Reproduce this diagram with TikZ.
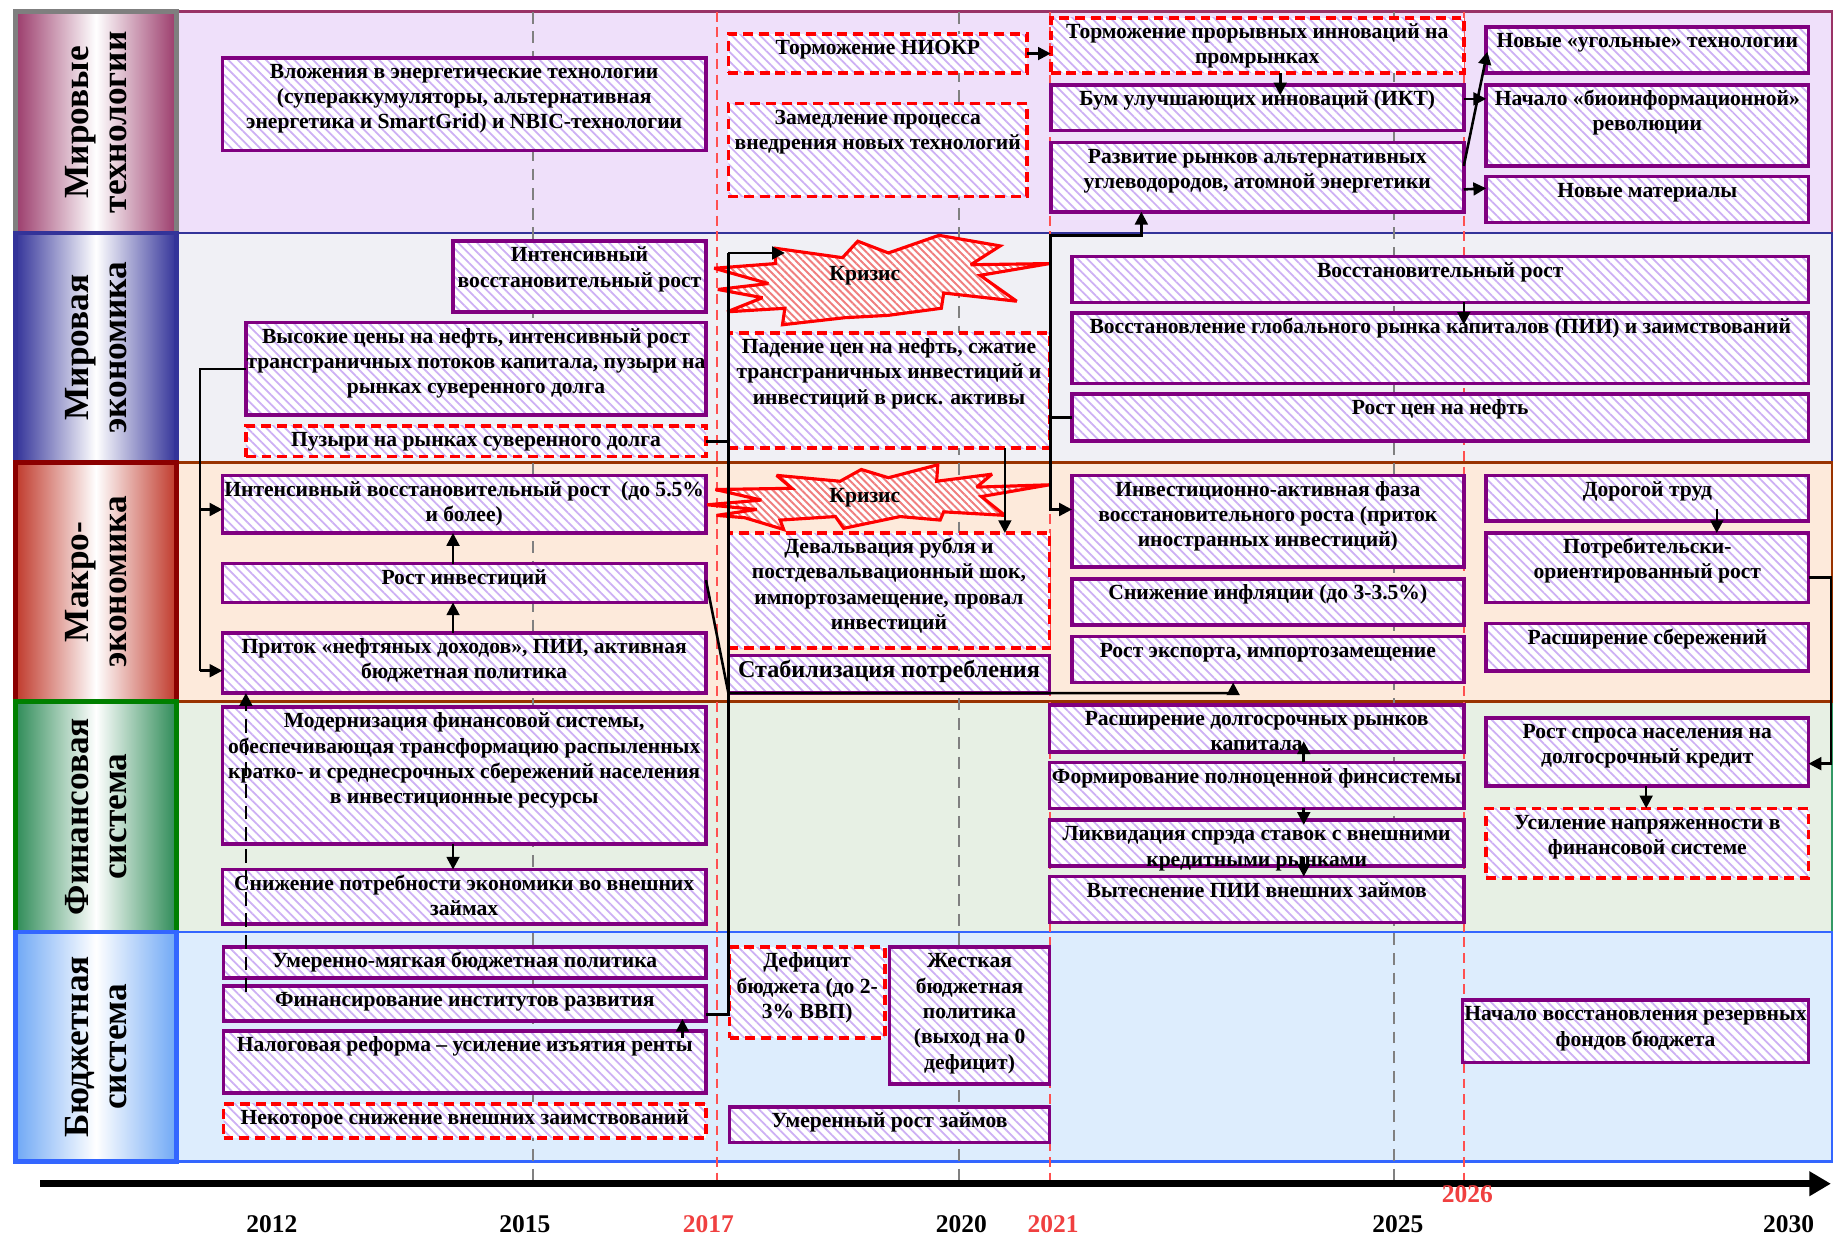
\documentclass[tikz,border=0pt]{standalone}
\usepackage{fontspec}
\setmainfont{Liberation Serif}
\usetikzlibrary{patterns.meta,arrows.meta,calc}
\definecolor{bpurple}{HTML}{800080}
\definecolor{hatchP}{HTML}{CDB0F4}
\definecolor{hatchR}{HTML}{F07E7E}
\definecolor{rowA}{HTML}{EFE0FA}
\definecolor{rowB}{HTML}{F0F0F5}
\definecolor{rowC}{HTML}{FDEADB}
\definecolor{rowD}{HTML}{E7F0E4}
\definecolor{rowE}{HTML}{DDEDFD}
\definecolor{rowAb}{HTML}{993366}
\definecolor{rowBb}{HTML}{333399}
\definecolor{rowCb}{HTML}{993300}
\definecolor{rowDb}{HTML}{339966}
\definecolor{rowEb}{HTML}{3366FF}
\definecolor{labA}{HTML}{9B3B6B}
\definecolor{labB}{HTML}{333399}
\definecolor{labC}{HTML}{C0392B}
\definecolor{labD}{HTML}{2E8B57}
\definecolor{labE}{HTML}{6FA8F5}
\definecolor{labAb}{HTML}{7F7F7F}
\definecolor{labCb}{HTML}{8B0000}
\definecolor{labDb}{HTML}{008000}
\definecolor{vredc}{HTML}{FF5050}
\definecolor{yred}{HTML}{F04040}
\newcommand{\bxfont}{\fontsize{11}{12.9}\selectfont\bfseries}
\newcommand{\bxpad}{1.5pt}
\newcommand{\bx}[7][pbox]{%
  \pgfmathsetmacro\bxw{(#5-#3)*0.6}%
  \pgfmathsetmacro\bxh{(#6-#4)*0.6}%
  \node[#1, anchor=north west, minimum width=\bxw pt, minimum height=\bxh pt] (#2) at (#3,#4)
   {\parbox[c][\bxh pt][t]{\bxw pt}{\centering\vspace*{\bxpad}\makebox[0pt]{\begin{tabular}[t]{@{}c@{}}#7\end{tabular}}\par}};}
\begin{document}
\begin{tikzpicture}[x=0.6pt,y=-0.6pt,
  pbox/.style={draw=bpurple, line width=1.9pt, preaction={fill=white},
    pattern={Lines[angle=-45,distance=3.4pt,line width=0.9pt]}, pattern color=hatchP,
    inner sep=0pt, outer sep=0pt, font=\bxfont},
  rbox/.style={pbox, draw=red, dash pattern=on 5pt off 3pt},
  arr/.style={line width=1.3pt, -{Triangle[length=6.5pt,width=6.5pt]}},
  conn/.style={line width=1.3pt},
  vgray/.style={draw=gray, line width=1.1pt, dash pattern=on 6pt off 4pt},
  vred/.style={draw=vredc, line width=1pt, dash pattern=on 5pt off 3pt},
  starsty/.style={draw=red, line width=1.6pt, line join=miter, miter limit=3,
    preaction={fill=white}, pattern={Lines[angle=-45,distance=2.6pt,line width=1pt]}, pattern color=hatchR},
  labtxt/.style={rotate=90, align=center, font=\fontsize{18}{19.5}\selectfont\bfseries},
  yr/.style={font=\fontsize{13}{15}\selectfont\bfseries},
  yrr/.style={yr, text=yred}]
\useasboundingbox (0,0) rectangle (1568,1059);
\fill[white] (0,0) rectangle (1568,1059);
% rows
\path[fill=rowA, draw=rowAb, line width=1.4pt] (150,10) rectangle (1557,198);
\path[fill=rowB, draw=rowBb, line width=1.4pt] (150,198) rectangle (1557,393);
\path[fill=rowD, draw=rowDb, line width=1.4pt] (150,596) rectangle (1557,792);
\path[fill=rowC, draw=rowCb, line width=1.4pt] (150,393) rectangle (1557,596);
\path[fill=rowE, draw=rowEb, line width=1.4pt] (150,792) rectangle (1557,987);
% labels
\path[draw=labAb, line width=2.4pt, left color=labA, right color=labA, middle color=white] (13,10) rectangle (150,198);
\path[draw=labB, line width=2.4pt, left color=labB, right color=labB, middle color=white] (13,198) rectangle (150,393);
\path[draw=labCb, line width=2.4pt, left color=labC, right color=labC, middle color=white] (13,393) rectangle (150,596);
\path[draw=labDb, line width=2.4pt, left color=labD, right color=labD, middle color=white] (13,596) rectangle (150,792);
\path[draw=rowEb, line width=2.4pt, left color=labE, right color=labE, middle color=white] (13,792) rectangle (150,987);
\node[labtxt] (L1) at (81.5,104) {Мировые\\технологии};
\node[labtxt] (L2) at (81.5,295.5) {Мировая\\экономика};
\node[labtxt] (L3) at (81.5,494.5) {Макро-\\экономика};
\node[labtxt] (L4) at (81.5,694) {Финансовая\\система};
\node[labtxt] (L5) at (81.5,889.5) {Бюджетная\\система};
% vertical year lines
\draw[vgray] (453,10) -- (453,1006);
\draw[vred] (609,10) -- (609,1006);
\draw[vgray] (815,10) -- (815,1006);
\draw[vred] (892,10) -- (892,1006);
\draw[vgray] (1185,10) -- (1185,1006);
\draw[vred] (1244,10) -- (1244,1006);
% junction coordinates
\coordinate (v1) at (619,215);
\coordinate (v2) at (619,862);
\coordinate (v3) at (619,375);
\coordinate (v4) at (619,589);
\coordinate (v5) at (1048,589);
% Row 1
\bx{A1}{189}{49}{600}{128}{Вложения в энергетические технологии\\(супераккумуляторы, альтернативная\\энергетика и SmartGrid) и NBIC-технологии}
\bx[rbox]{A2}{619}{29}{873}{62}{Торможение НИОКР}
\bx[rbox]{A3}{619}{88}{873}{167}{Замедление процесса\\внедрения новых технологий}
\bx[rbox]{A4}{893}{15}{1244}{62}{Торможение прорывных инноваций на\\промрынках}
\bx{A5}{893}{72}{1244}{111}{Бум улучшающих инноваций (ИКТ)}
\bx{A6}{893}{121}{1244}{180}{Развитие рынков альтернативных\\углеводородов, атомной энергетики}
\bx{A7}{1263}{23}{1537}{62}{Новые «угольные» технологии}
\bx{A8}{1263}{72}{1537}{141}{Начало «биоинформационной»\\революции}
\bx{A9}{1263}{150}{1537}{189}{Новые материалы}
% Row 2
\bx{B1}{385}{205}{600}{265}{Интенсивный\\восстановительный рост}
\bx{B2}{209}{274}{600}{353}{Высокие цены на нефть, интенсивный рост\\трансграничных потоков капитала, пузыри на\\рынках суверенного долга}
\bx[rbox]{B3}{209}{362}{600}{388}{Пузыри на рынках суверенного долга}
\bx[rbox]{B4}{619}{283}{892}{381}{Падение цен на нефть, сжатие\\трансграничных инвестиций и\\инвестиций в риск. активы}
\bx{B5}{911}{218}{1537}{257}{Восстановительный рост}
\bx{B6}{911}{266}{1537}{326}{Восстановление глобального рынка капиталов (ПИИ) и заимствований}
\bx{B7}{911}{335}{1537}{375}{Рост цен на нефть}
% Row 3
\bx{C1}{189}{404}{600}{453}{Интенсивный восстановительный рост~~(до 5.5\%\\и более)}
\bx{C2}{189}{479}{600}{512}{Рост инвестиций}
\bx{C3}{189}{538}{600}{589}{Приток «нефтяных доходов», ПИИ, активная\\бюджетная политика}
\bx[rbox]{C7}{619}{453}{892}{551}{Девальвация рубля и\\постдевальвационный шок,\\импортозамещение, провал\\инвестиций}
\bx[pbox,font=\fontsize{12.3}{14}\selectfont\bfseries]{C8}{619}{557}{892}{589}{Стабилизация потребления}
\bx{C4}{911}{404}{1244}{482}{Инвестиционно-активная фаза\\восстановительного роста (приток\\иностранных инвестиций)}
\bx{C5}{911}{492}{1244}{531}{Снижение инфляции (до 3-3.5\%)}
\bx{C6}{911}{541}{1244}{580}{Рост экспорта, импортозамещение}
\bx{C9}{1263}{404}{1537}{443}{Дорогой труд}
\bx{C10}{1263}{453}{1537}{512}{Потребительски-\\ориентированный рост}
\bx{C11}{1263}{530}{1537}{570}{Расширение сбережений}
% Row 4
\bx{D1}{189}{601}{600}{717}{Модернизация финансовой системы,\\обеспечивающая трансформацию распыленных\\кратко- и среднесрочных сбережений населения\\в инвестиционные ресурсы}
\bx{D2}{189}{739}{600}{785}{Снижение потребности экономики во внешних\\займах}
\bx{D3}{892}{599}{1244}{639}{Расширение долгосрочных рынков\\капитала}
\bx{D4}{892}{648}{1244}{687}{Формирование полноценной финсистемы}
\bx{D5}{892}{697}{1244}{736}{Ликвидация спрэда ставок с внешними\\кредитными рынками}
\bx{D6}{892}{745}{1244}{784}{Вытеснение ПИИ внешних займов}
\bx{C12}{1263}{610}{1537}{668}{Рост спроса населения на\\долгосрочный кредит}
\bx[rbox]{C13}{1263}{687}{1537}{746}{Усиление напряженности в\\финансовой системе}
% Row 5
\bx{E1}{190}{805}{600}{831}{Умеренно-мягкая бюджетная политика}
\bx{E2}{190}{838}{600}{868}{Финансирование институтов развития}
\bx{E3}{190}{876}{600}{929}{Налоговая реформа – усиление изъятия ренты}
\bx[rbox]{E4}{190}{938}{600}{967}{Некоторое снижение внешних заимствований}
\bx[rbox]{E5}{620}{805}{752}{882}{Дефицит\\бюджета (до 2-\\3\% ВВП)}
\bx{E6}{756}{805}{892}{921}{Жесткая\\бюджетная\\политика\\(выход на 0\\дефицит)}
\bx{E7}{620}{941}{892}{971}{Умеренный рост займов}
\bx{E8}{1243}{850}{1537}{903}{Начало восстановления резервных\\фондов бюджета}
% stars
\draw[starsty] (798,200) -- (850,209) -- (825,225) -- (892,224) -- (833,234) -- (864,256) -- (802,249) -- (800,262) -- (755,268) -- (718,270) -- (665,276) -- (667,262) -- (618,265) -- (648,253) -- (610,246) -- (653,241) -- (607,228) -- (659,224) -- (659,211) -- (716,219) -- (729,205) -- (755,215) -- cycle;
\draw[starsty] (732,399) -- (755,406) -- (797,395) -- (796,409) -- (843,403) -- (830,414) -- (892,412) -- (834,422) -- (854,438) -- (802,435) -- (799,442) -- (765,439) -- (717,449) -- (710,439) -- (663,442) -- (666,450) -- (633,440) -- (609,438) -- (643,433) -- (601,429) -- (647,425) -- (608,416) -- (673,415) -- (660,404) -- (714,409) -- cycle;
\node[font=\bxfont] (K1) at (735,234) {Кризис};
\node[font=\bxfont] (K2) at (735,423) {Кризис};
% connectors
\draw[conn] ($(E2.south east)+(0,-6)$) -- (v2) -- (v1);
\draw[arr] (v1) -- (667,215);
\draw[conn] (B3.east) -- (v3);
\draw[arr] ($(C2.north east)+(0,14)$) -- (v4) -- (v5) -- (v5 |- C6.south);
\draw[arr] (A2.east) -- (A2.east -| A4.west);
\draw[arr] ($(A4.south west)+(195,0)$) -- ($(A5.north west)+(195,9)$);
\draw[arr] ($(A5.north east)+(0,12)$) -- ($(A8.north west)+(0,12)$);
\draw[arr] ($(A6.north east)+(0,20)$) -- ($(A7.south west)+(1,-18)$);
\draw[arr] ($(A6.north east)+(0,40)$) -- ($(A9.north west)+(0,10)$);
\coordinate (jA) at (893,200);
\coordinate (jA2) at (970,200);
\coordinate (jB) at (893,355);
\coordinate (jC) at (893,433);
\draw[arr] (jB) -- (jA) -- (jA2) -- (jA2 |- A6.south);
\draw[arr] (jB) -- (jC) -- (jC -| C4.west);
\draw[conn] (jB) -- (jB -| B7.west);
\draw[arr] ($(B5.south west)+(333,0)$) -- ($(B6.north west)+(333,10)$);
\coordinate (jL1) at (170,313.5);
\coordinate (jL2) at (170,433);
\coordinate (jL3) at (170,570);
\draw[conn] (B2.west) -- (jL1) -- (jL3);
\draw[arr] (jL2) -- (jL2 -| C1.west);
\draw[arr] (jL3) -- (jL3 -| C3.west);
\draw[arr] ($(C3.north west)+(196,0)$) -- ($(C2.south west)+(196,0)$);
\draw[arr] ($(C2.north west)+(196,0)$) -- ($(C1.south west)+(196,0)$);
\draw[arr] ($(D1.south west)+(196,0)$) -- ($(D2.north west)+(196,0)$);
\draw[arr, dash pattern=on 7pt off 4pt] ($(E2.north west)+(19,5)$) -- ($(C3.south west)+(20,0)$);
\draw[arr] ($(E3.north west)+(390,6)$) -- ($(E2.south west)+(390,-2)$);
\draw[arr] ($(B4.south west)+(235,0)$) -- ($(C7.north west)+(235,0)$);
\draw[arr] ($(C9.south west)+(196,-10)$) -- ($(C10.north west)+(196,0)$);
\coordinate (r1) at (1556,491);
\coordinate (r2) at (1556,649);
\draw[arr] ($(C10.north east)+(0,38)$) -- (r1) -- (r2) -- (r2 -| C12.east);
\draw[arr] ($(C12.south west)+(136,0)$) -- ($(C13.north west)+(136,0)$);
\draw[arr] ($(D4.north west)+(216,0)$) -- ($(D3.south west)+(216,-9)$);
\draw[arr] ($(D4.south west)+(216,0)$) -- ($(D5.north west)+(216,4)$);
\draw[arr] ($(D5.south west)+(216,-8)$) -- ($(D6.north west)+(216,0)$);
% timeline
\coordinate (tl0) at (34,1006);
\coordinate (tl1) at (1556,1006);
\draw[line width=3.6pt, -{Triangle[length=11pt,width=12pt]}] (tl0) -- (tl1);
\node[yr] (y2012) at (231,1040) {2012};
\node[yr] (y2015) at (446,1040) {2015};
\node[yrr] (y2017) at (602,1040) {2017};
\node[yr] (y2020) at (817,1040) {2020};
\node[yrr] (y2021) at (895,1040) {2021};
\node[yr] (y2025) at (1188,1040) {2025};
\node[yrr] (y2026) at (1247,1015) {2026};
\node[yr] (y2030) at (1520,1040) {2030};
\end{tikzpicture}
\end{document}
